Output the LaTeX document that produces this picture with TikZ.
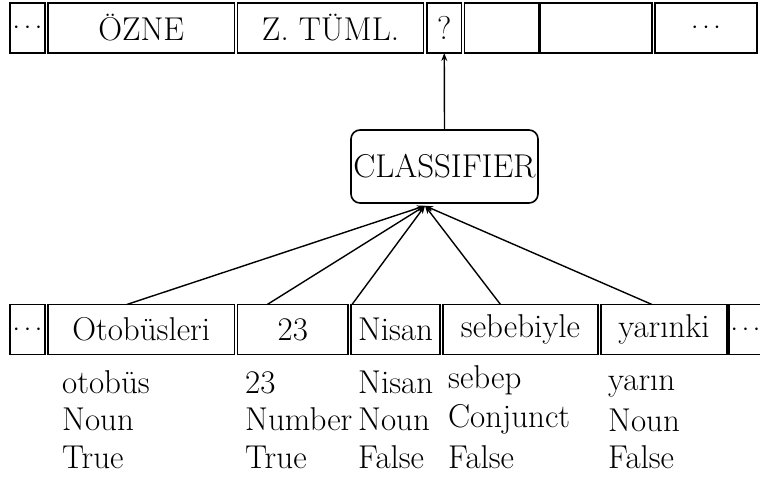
\documentclass[tikz,border=0pt]{standalone}
\usepackage{fontspec}
\usetikzlibrary{arrows.meta,calc}
\newcommand{\mydots}{{\fontsize{24}{28}\selectfont$\cdots$}}
\begin{document}
\begin{tikzpicture}[x=1pt,y=-1pt,
  every node/.style={font=\fontsize{33}{38}\selectfont},
  cell/.style={draw,line width=1.6pt,inner sep=0pt,outer sep=0pt,minimum height=50pt},
  clsbox/.style={draw,line width=1.6pt,rounded corners=9pt,inner sep=0pt,minimum width=187pt,minimum height=73pt},
  feat/.style={anchor=base west,inner sep=0pt},
  conn/.style={line width=1.4pt,-{Stealth[length=8pt,width=6pt]}}]
\useasboundingbox (0,0) rectangle (760,480);
% top row
\node[cell,minimum width=35pt]    (t1) at (27.5,28) {\mydots};
\node[cell,minimum width=186.5pt] (t2) at (141.25,28) {ÖZNE};
\node[cell,minimum width=186pt]   (t3) at (330.5,28) {Z. TÜML.};
\node[cell,minimum width=34.5pt]  (t4) at (444.25,28) {?};
\node[cell,minimum width=74pt]    (t5) at (501.5,28) {};
\node[cell,minimum width=112pt]   (t6) at (596,28) {};
\node[cell,minimum width=102pt]   (t7) at (706,28) {\mydots};
% classifier
\node[clsbox] (cls) at (444.5,166.5) {CLASSIFIER};
% bottom row
\node[cell,minimum width=35pt]    (b1) at (27.5,329.5) {\mydots};
\node[cell,minimum width=186.5pt] (b2) at (141.25,329.5) {Otobüsleri};
\node[cell,minimum width=110.5pt] (b3) at (292.75,329.5) {23};
\node[cell,minimum width=89pt]    (b4) at (395.5,329.5) {Nisan};
\node[cell,minimum width=155pt]   (b5) at (520.5,329.5) {sebebiyle};
\node[cell,minimum width=126pt]   (b6) at (664,329.5) {yarınki};
\node[cell,minimum width=33pt]    (b7) at (745.5,329.5) {\mydots};
% connectors
\coordinate (tip) at ($(cls.south)+(-19.5,2)$);
\draw[conn] (cls.north) -- (t4.south);
\draw[conn] ($(b2.north)+(-14.5,0)$) -- (tip);
\draw[conn] ($(b3.north)+(-25.5,0)$) -- (tip);
\draw[conn] ($(b4.north)+(-43.5,0)$) -- (tip);
\draw[conn] ($(b5.north)+(-20,0)$) -- (tip);
\draw[conn] ($(b6.north)+(-12,0)$) -- (tip);
% features
\node[feat] (f11) at (62,393) {otobüs};
\node[feat] (f12) at (62,430.5) {Noun};
\node[feat] (f13) at (62,468) {True};
\node[feat] (f21) at (245,393) {23};
\node[feat] (f22) at (245,430.5) {Number};
\node[feat] (f23) at (245,468) {True};
\node[feat] (f31) at (358,393) {Nisan};
\node[feat] (f32) at (358,430.5) {Noun};
\node[feat] (f33) at (358,468) {False};
\node[feat] (f41) at (448,388) {sebep};
\node[feat] (f42) at (448,427) {Conjunct};
\node[feat] (f43) at (448,468) {False};
\node[feat] (f51) at (608,390) {yarın};
\node[feat] (f52) at (608,431) {Noun};
\node[feat] (f53) at (608,468) {False};
\end{tikzpicture}
\end{document}
